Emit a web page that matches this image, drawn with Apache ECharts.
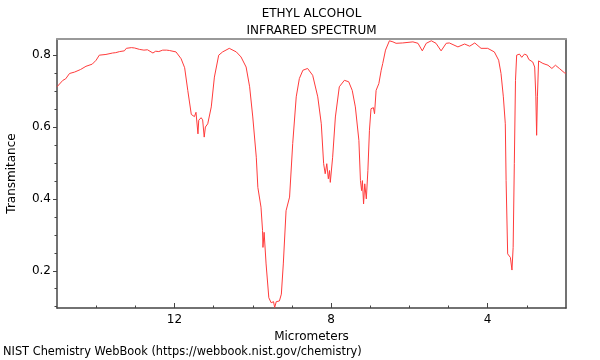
<!DOCTYPE html>
<html><head><meta charset="utf-8">
<script src="https://cdn.jsdelivr.net/npm/echarts@6/dist/echarts.min.js"></script>
<style>html,body{margin:0;padding:0;background:#fff}#c{width:600px;height:360px}</style>
</head><body><div id="c"></div>
<script>
const titleLines = ['ETHYL ALCOHOL', 'INFRARED SPECTRUM'];
const xName = 'Micrometers';
const yName = 'Transmitance';
const footnote = 'NIST Chemistry WebBook (https://webbook.nist.gov/chemistry)';
const xMajorTicks = [4, 8, 12];
const xMinorTicks = [3, 5, 6, 7, 9, 10, 11, 13, 14];
const yMajorTicks = [0.2, 0.4, 0.6, 0.8];
const yMinorTicks = [0.1, 0.15, 0.25, 0.3, 0.35, 0.45, 0.5, 0.55, 0.65, 0.7, 0.75];
const wavelength = [15.0,14.95,14.85,14.78,14.68,14.55,14.51,14.40,14.26,14.10,14.0,13.92,13.88,13.75,13.58,13.50,13.40,13.28,13.23,13.1,13.02,12.89,12.78,12.69,12.55,12.48,12.40,12.3,12.20,12.13,11.96,11.83,11.74,11.66,11.57,11.49,11.45,11.40,11.38,11.32,11.28,11.24,11.21,11.15,11.06,10.98,10.87,10.77,10.6,10.42,10.30,10.17,10.08,10.0,9.91,9.87,9.79,9.75,9.74,9.71,9.66,9.59,9.53,9.47,9.44,9.40,9.36,9.32,9.27,9.22,9.15,9.06,8.98,8.89,8.81,8.72,8.60,8.47,8.34,8.25,8.19,8.15,8.11,8.07,8.04,8.02,7.96,7.89,7.79,7.66,7.55,7.46,7.38,7.29,7.25,7.22,7.20,7.17,7.14,7.10,7.06,7.02,6.98,6.92,6.89,6.85,6.78,6.72,6.68,6.61,6.51,6.42,6.34,6.17,5.91,5.78,5.67,5.57,5.44,5.32,5.19,5.06,4.98,4.76,4.59,4.46,4.33,4.17,4.0,3.83,3.72,3.66,3.60,3.55,3.53,3.49,3.44,3.42,3.38,3.35,3.32,3.29,3.26,3.19,3.13,3.06,3.00,2.95,2.85,2.80,2.77,2.75,2.73,2.70,2.59,2.46,2.36,2.27,2.17,2.04,2.00];
const transmittance = [0.712,0.716,0.730,0.734,0.749,0.753,0.756,0.760,0.769,0.775,0.786,0.800,0.801,0.802,0.806,0.807,0.810,0.812,0.819,0.821,0.820,0.816,0.814,0.815,0.806,0.811,0.810,0.814,0.814,0.813,0.809,0.790,0.765,0.702,0.635,0.629,0.641,0.581,0.619,0.626,0.620,0.572,0.600,0.609,0.656,0.739,0.800,0.809,0.819,0.809,0.795,0.767,0.712,0.628,0.516,0.432,0.377,0.312,0.265,0.307,0.219,0.125,0.111,0.114,0.098,0.114,0.111,0.116,0.135,0.219,0.367,0.405,0.554,0.684,0.735,0.758,0.763,0.744,0.684,0.609,0.498,0.470,0.498,0.456,0.479,0.446,0.516,0.628,0.712,0.730,0.726,0.702,0.656,0.563,0.451,0.423,0.451,0.386,0.442,0.400,0.479,0.591,0.651,0.654,0.637,0.702,0.721,0.758,0.777,0.814,0.840,0.837,0.833,0.834,0.837,0.833,0.812,0.833,0.840,0.833,0.812,0.833,0.834,0.823,0.831,0.825,0.834,0.819,0.819,0.809,0.786,0.749,0.684,0.609,0.451,0.247,0.251,0.237,0.202,0.265,0.498,0.730,0.800,0.803,0.794,0.803,0.800,0.788,0.781,0.767,0.684,0.577,0.684,0.784,0.777,0.772,0.763,0.772,0.763,0.751,0.750];

const FONT = 'DejaVu Sans';
const X_MIN = 2, X_MAX = 15, Y_MIN = 0.0964, Y_MAX = 0.845;
const chart = echarts.init(document.getElementById('c'), null, {renderer: 'canvas'});
const axisDark = '#444';
const xBase = {type: 'value', min: X_MIN, max: X_MAX, inverse: true, splitLine: {show: false}};
const yBase = {type: 'value', min: Y_MIN, max: Y_MAX, splitLine: {show: false}};
chart.setOption({
  animation: false,
  grid: {left: 57, right: 34, top: 39, bottom: 52, containLabel: false, outerBoundsMode: 'none'},
  graphic: [
    {type: 'text', x: 311.5, y: 8, style: {text: titleLines[0], font: '12px "' + FONT + '"', fill: '#000', textAlign: 'center'}},
    {type: 'text', x: 311.5, y: 25, style: {text: titleLines[1], font: '12px "' + FONT + '"', fill: '#000', textAlign: 'center'}},
    {type: 'text', x: 3, y: 347, style: {text: footnote, font: '11.4px "' + FONT + '"', fill: '#000'}}
  ],
  xAxis: [
    Object.assign({}, xBase, {
      position: 'bottom',
      name: xName, nameLocation: 'middle', nameGap: 15,
      nameTextStyle: {fontFamily: FONT, fontSize: 12, color: '#000'},
      axisLine: {show: true, lineStyle: {color: axisDark, width: 1.5}},
      axisTick: {show: true, inside: true, length: 5, customValues: xMajorTicks, lineStyle: {color: axisDark}},
      axisLabel: {show: true, customValues: xMajorTicks, margin: 6, fontFamily: FONT, fontSize: 12, color: '#000'}
    }),
    Object.assign({}, xBase, {
      position: 'bottom',
      axisLine: {show: false},
      axisTick: {show: true, inside: true, length: 2.5, customValues: xMinorTicks, lineStyle: {color: axisDark}},
      axisLabel: {show: false}
    }),
    Object.assign({}, xBase, {
      position: 'top',
      axisLine: {show: true, lineStyle: {color: '#999', width: 2}},
      axisTick: {show: false}, axisLabel: {show: false}
    })
  ],
  yAxis: [
    Object.assign({}, yBase, {
      position: 'left',
      name: yName, nameLocation: 'middle', nameGap: 39, nameRotate: 90,
      nameTextStyle: {fontFamily: FONT, fontSize: 12, color: '#000'},
      axisLine: {show: true, lineStyle: {color: axisDark, width: 1.5}},
      axisTick: {show: true, inside: false, length: 4, customValues: yMajorTicks, lineStyle: {color: axisDark}},
      axisLabel: {show: true, customValues: yMajorTicks, margin: 6, fontFamily: FONT, fontSize: 12, color: '#000',
        formatter: v => v.toFixed(1)}
    }),
    Object.assign({}, yBase, {
      position: 'left',
      axisLine: {show: false},
      axisTick: {show: true, inside: false, length: 2.5, customValues: yMinorTicks, lineStyle: {color: axisDark}},
      axisLabel: {show: false}
    }),
    Object.assign({}, yBase, {
      position: 'right',
      axisLine: {show: true, lineStyle: {color: axisDark, width: 1.5}},
      axisTick: {show: false}, axisLabel: {show: false}
    })
  ],
  series: [{
    type: 'line',
    xAxisIndex: 0, yAxisIndex: 0,
    data: wavelength.map((w, i) => [w, transmittance[i]]),
    showSymbol: false, symbol: 'none',
    lineStyle: {color: '#ff3b3b', width: 1},
    silent: true
  }]
});
</script></body></html>
